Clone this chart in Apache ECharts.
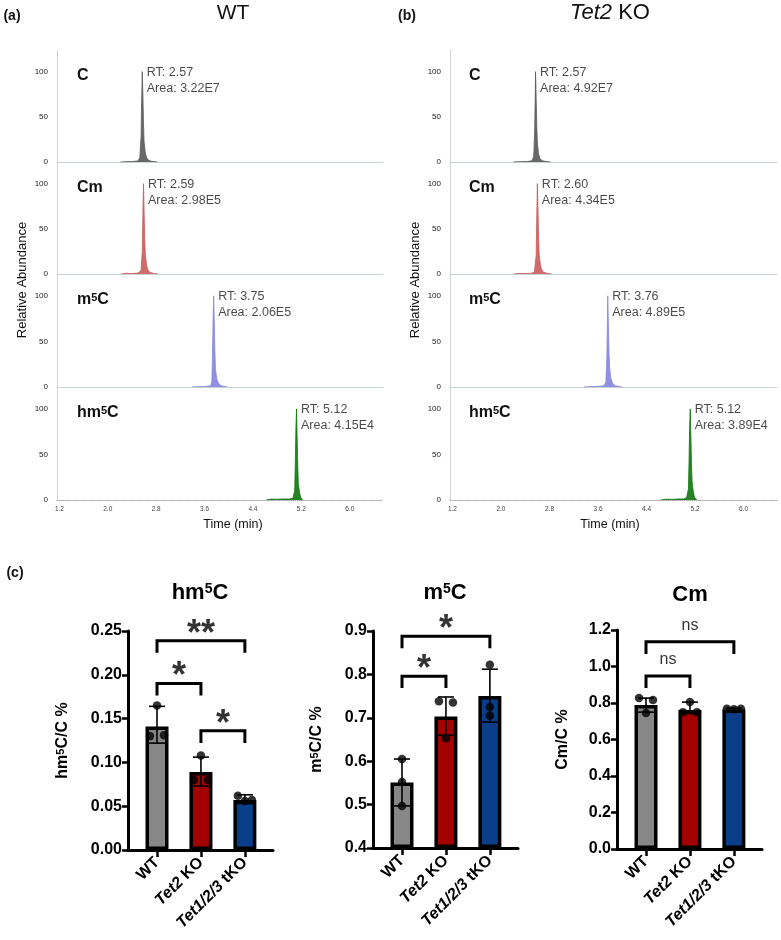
<!DOCTYPE html>
<html>
<head>
<meta charset="utf-8">
<title>LC-MS/MS nucleosides</title>
<script src="https://cdn.jsdelivr.net/npm/echarts@6.0.0/dist/echarts.min.js"></script>
<style>
  html, body { margin: 0; padding: 0; background: #fff; }
  #chart { width: 781px; height: 940px; }
</style>
</head>
<body>
<div id="chart"></div>
<script>
const FONT = '"Liberation Sans", Arial, Helvetica, sans-serif'

// ---- (a) WT / (b) Tet2 KO chromatograms ----
const compounds = ['C', 'Cm', 'm5C', 'hm5C']
const timeTicks = [1.2, 2.0, 2.8, 3.6, 4.4, 5.2, 6.0]
const abundanceTicks = [0, 50, 100]

const wtRT = [2.57, 2.59, 3.75, 5.12]
const wtArea = ['3.22E7', '2.98E5', '2.06E5', '4.15E4']
const koRT = [2.57, 2.60, 3.76, 5.12]
const koArea = ['4.92E7', '4.34E5', '4.89E5', '3.89E4']

// [time (min), relative abundance]
const wtC = [[2.21, 0], [2.30, 0.4], [2.42, 0.6], [2.50, 1.2], [2.53, 5], [2.55, 28], [2.56, 68], [2.57, 100], [2.58, 74], [2.59, 42], [2.60, 22], [2.62, 10], [2.64, 5], [2.67, 2], [2.72, 0.8], [2.82, 0]]
const wtCm = [[2.22, 0], [2.25, 1.5], [2.30, 0.8], [2.40, 0.5], [2.50, 1], [2.55, 4], [2.57, 25], [2.58, 66], [2.59, 100], [2.60, 70], [2.61, 40], [2.62, 22], [2.64, 10], [2.66, 5], [2.69, 2], [2.75, 0.8], [2.83, 0]]
const wtM5C = [[3.39, 0], [3.50, 0.4], [3.62, 0.6], [3.70, 1.5], [3.72, 6], [3.73, 30], [3.74, 70], [3.75, 100], [3.76, 72], [3.77, 40], [3.78, 20], [3.80, 9], [3.83, 4], [3.87, 1.5], [3.93, 0.6], [3.98, 0]]
const wtHm5C = [[4.62, 0], [4.70, 1], [4.80, 0.8], [4.90, 1.2], [5.00, 1], [5.06, 2], [5.09, 10], [5.10, 40], [5.11, 78], [5.12, 100], [5.13, 70], [5.14, 38], [5.15, 18], [5.17, 8], [5.19, 3], [5.22, 0]]

const koC = [[2.20, 0], [2.32, 0.4], [2.44, 0.6], [2.51, 1.3], [2.54, 6], [2.555, 32], [2.565, 72], [2.57, 100], [2.58, 70], [2.59, 40], [2.60, 21], [2.62, 9], [2.64, 4], [2.68, 1.5], [2.74, 0.6], [2.82, 0]]
const koCm = [[2.21, 0], [2.30, 0.6], [2.40, 0.5], [2.50, 0.8], [2.55, 2], [2.58, 20], [2.59, 62], [2.60, 100], [2.61, 72], [2.62, 42], [2.63, 22], [2.65, 10], [2.67, 5], [2.70, 2], [2.76, 0.7], [2.84, 0]]
const koM5C = [[3.37, 0], [3.48, 0.5], [3.60, 0.7], [3.70, 1.4], [3.73, 6], [3.745, 30], [3.755, 72], [3.76, 100], [3.77, 70], [3.78, 40], [3.79, 22], [3.81, 10], [3.84, 4], [3.88, 1.5], [3.94, 0.6], [4.00, 0]]
const koHm5C = [[4.63, 0], [4.72, 0.9], [4.82, 0.7], [4.92, 1.1], [5.01, 1.2], [5.06, 2.5], [5.09, 12], [5.10, 42], [5.11, 80], [5.12, 100], [5.13, 72], [5.14, 40], [5.15, 20], [5.17, 9], [5.19, 3], [5.23, 0]]

// ---- (c) quantification ----
const groups = ['WT', 'Tet2 KO', 'Tet1/2/3 tKO']

const hmMean = [0.141, 0.089, 0.057]
const hmLow = [0.122, 0.073, 0.053]
const hmHigh = [0.164, 0.106, 0.063]
const hmDots = [[0.165, 0.130, 0.131], [0.108, 0.080, 0.080], [0.062, 0.056, 0.057]]
const hmSig = [
  { from: 0, to: 2, y: 0.239, text: '**' },
  { from: 0, to: 1, y: 0.190, text: '*' },
  { from: 1, to: 2, y: 0.136, text: '*' },
]

const m5Mean = [0.551, 0.703, 0.750]
const m5Low = [0.497, 0.660, 0.690]
const m5High = [0.605, 0.748, 0.812]
const m5Dots = [[0.605, 0.552, 0.497], [0.738, 0.735, 0.653], [0.822, 0.725, 0.705]]
const m5Sig = [
  { from: 0, to: 2, y: 0.888, text: '*' },
  { from: 0, to: 1, y: 0.796, text: '*' },
]

const cmMean = [0.789, 0.762, 0.765]
const cmLow = [0.750, 0.742, 0.758]
const cmHigh = [0.827, 0.805, 0.772]
const cmDots = [[0.827, 0.816, 0.745], [0.805, 0.750, 0.750], [0.768, 0.766, 0.769]]
const cmSig = [
  { from: 0, to: 2, y: 1.135, text: 'ns' },
  { from: 0, to: 1, y: 0.948, text: 'ns' },
]

const peakColors = ['#585858', '#c95c5c', '#8585de', '#0e760e']
const barColors = ['#878787', '#a30000', '#0b3e88']

function supText(s, base) {
  // "hm5C" -> "{b|hm}{s|5}{b|C}"
  return s.split('5').map(part => part ? '{' + base + '|' + part + '}' : '').join('{s|5}')
}

function groupLabel(g) {
  const m = g.match(/^(Tet[\d/]+)(.*)$/)
  return m ? '{i|' + m[1] + '}{b|' + m[2] + '}' : '{b|' + g + '}'
}

const grid = []
const xAxis = []
const yAxis = []
const series = []
const graphic = []

function addText(x, y, text, font, extra) {
  graphic.push(Object.assign({
    type: 'text', x, y, silent: true,
    style: { text, font, fill: '#111', textAlign: 'center', textVerticalAlign: 'middle' },
  }, extra || {}))
}

// ---------- top chromatogram panels ----------
const rowTop = [50, 162, 274, 387]
const rowHeight = [112, 112, 113, 113]
const panels = [
  { left: 57, width: 326, rt: wtRT, area: wtArea, traces: [wtC, wtCm, wtM5C, wtHm5C], labelX: 77, centerX: 233, yTitleX: 22 },
  { left: 450, width: 327, rt: koRT, area: koArea, traces: [koC, koCm, koM5C, koHm5C], labelX: 469, centerX: 610, yTitleX: 415 },
]

panels.forEach(p => {
  compounds.forEach((name, r) => {
    const idx = grid.length
    const last = r === compounds.length - 1
    grid.push({ left: p.left, top: rowTop[r], width: p.width, height: rowHeight[r], containLabel: false, outerBoundsMode: 'none' })
    xAxis.push({
      type: 'value', gridIndex: idx, min: 1.16, max: 6.55,
      axisLine: { show: true, onZero: false, lineStyle: { color: last ? '#a8a8a8' : '#c9d3d6', width: 1, type: last ? 'dotted' : 'solid' } },
      axisTick: { show: false },
      splitLine: { show: false },
      axisLabel: last
        ? { customValues: timeTicks, formatter: v => v.toFixed(1), fontSize: 6.5, color: '#444', margin: 6, fontFamily: FONT }
        : { show: false },
    })
    yAxis.push({
      type: 'value', gridIndex: idx, min: 0, max: 124,
      axisLine: { show: true, lineStyle: { color: '#d4d4d4', width: 1 } },
      axisTick: { show: false },
      splitLine: { show: false },
      axisLabel: { customValues: abundanceTicks, fontSize: 8, color: '#222', margin: 9, fontFamily: FONT },
    })
    series.push({
      type: 'line', xAxisIndex: idx, yAxisIndex: idx, data: p.traces[r],
      symbol: 'none', silent: true, animation: false,
      lineStyle: { color: peakColors[r], width: 0.8 },
      areaStyle: { color: peakColors[r], opacity: 0.9 },
    })
    series.push({
      type: 'scatter', xAxisIndex: idx, yAxisIndex: idx, data: [[p.rt[r], 100]],
      symbolSize: 1, itemStyle: { color: 'rgba(0,0,0,0)' }, silent: true, animation: false,
      label: {
        show: true, position: 'right', distance: 4, align: 'left', verticalAlign: 'top', offset: [0, -7],
        formatter: 'RT: ' + p.rt[r].toFixed(2) + '\nArea: ' + p.area[r],
        fontSize: 12.5, lineHeight: 16, color: '#1a1a1a', fontFamily: FONT,
      },
    })
    addText(p.labelX, rowTop[r] + 26, supText(name, 'b'), 'bold 16px ' + FONT, {
      style: {
        text: supText(name, 'b'), fill: '#111', textAlign: 'left', textVerticalAlign: 'middle',
        rich: {
          b: { fontSize: 16, fontWeight: 'bold', fontFamily: FONT, fill: '#111' },
          s: { fontSize: 11, fontWeight: 'bold', fontFamily: FONT, fill: '#111', verticalAlign: 'top' },
        },
      },
    })
  })
  addText(p.yTitleX, 280, 'Relative Abundance', '13px ' + FONT, { rotation: Math.PI / 2 })
  addText(p.centerX, 525, 'Time (min)', '12.5px ' + FONT)
})

addText(12, 16, '(a)', 'bold 14px ' + FONT)
addText(233, 13, 'WT', '21px ' + FONT)
addText(407, 16, '(b)', 'bold 14px ' + FONT)
addText(610, 13, '', '22px ' + FONT, {
  style: {
    text: '{i|Tet2}{n| KO}', fill: '#111', textAlign: 'center', textVerticalAlign: 'middle',
    rich: {
      i: { fontSize: 22, fontStyle: 'italic', fontFamily: FONT, fill: '#111' },
      n: { fontSize: 22, fontFamily: FONT, fill: '#111' },
    },
  },
})
addText(15, 573, '(c)', 'bold 14px ' + FONT)

// ---------- bottom bar charts ----------
const barCharts = [
  { left: 128, top: 631, height: 219, min: 0, max: 0.25, step: 0.05, digits: 2, axisName: 'hm5C/C %', title: 'hm5C', titleX: 200, titleY: 593, nameGap: 57,
    mean: hmMean, low: hmLow, high: hmHigh, dots: hmDots, sig: hmSig, jitter: [[0, -7, 7], [0, -7, 7], [-7, 0, 7]] },
  { left: 373, top: 631, height: 217, min: 0.4, max: 0.9, step: 0.1, digits: 1, axisName: 'm5C/C %', title: 'm5C', titleX: 445, titleY: 593, nameGap: 48,
    mean: m5Mean, low: m5Low, high: m5High, dots: m5Dots, sig: m5Sig, jitter: [[0, 0, 0], [-7, 7, 0], [0, 0, 0]] },
  { left: 617, top: 630, height: 219, min: 0, max: 1.2, step: 0.2, digits: 1, axisName: 'Cm/C %', title: 'Cm', titleX: 690, titleY: 595, nameGap: 46,
    mean: cmMean, low: cmLow, high: cmHigh, dots: cmDots, sig: cmSig, jitter: [[-7, 7, 0], [0, -7, 7], [-7, 0, 7]] },
]

const boldRich = {
  a: { fontSize: 16, fontWeight: 'bold', fontFamily: FONT, color: '#000' },
  s: { fontSize: 11, fontWeight: 'bold', fontFamily: FONT, color: '#000', verticalAlign: 'top' },
}

barCharts.forEach(c => {
  const idx = grid.length
  grid.push({ left: c.left, top: c.top, width: 145, height: c.height, containLabel: false, outerBoundsMode: 'none' })
  xAxis.push({
    type: 'value', gridIndex: idx, min: -0.66, max: 2.64,
    axisLine: { show: true, onZero: false, lineStyle: { color: '#000', width: 3 } },
    axisTick: { show: true, customValues: [0, 1, 2], length: 7, lineStyle: { color: '#000', width: 2.5 } },
    splitLine: { show: false },
    axisLabel: {
      customValues: [0, 1, 2], rotate: 45, margin: 10,
      formatter: v => groupLabel(groups[v]),
      fontSize: 16, fontWeight: 'bold', fontFamily: FONT, color: '#000',
      rich: {
        b: { fontSize: 16, fontWeight: 'bold', fontFamily: FONT, color: '#000' },
        i: { fontSize: 16, fontWeight: 'bold', fontStyle: 'italic', fontFamily: FONT, color: '#000' },
      },
    },
  })
  yAxis.push({
    type: 'value', gridIndex: idx, min: c.min, max: c.max, interval: c.step, startValue: c.min,
    name: supText(c.axisName, 'a'), nameLocation: 'middle', nameRotate: 90, nameGap: c.nameGap, nameMoveOverlap: false,
    nameTextStyle: { fontSize: 16, fontWeight: 'bold', fontFamily: FONT, color: '#000', rich: boldRich },
    axisLine: { show: true, onZero: false, lineStyle: { color: '#000', width: 3 } },
    axisTick: { show: true, length: 6, lineStyle: { color: '#000', width: 2.5 } },
    splitLine: { show: false },
    axisLabel: { formatter: v => v.toFixed(c.digits), fontSize: 16, fontWeight: 'bold', fontFamily: FONT, color: '#000', margin: 6 },
  })

  series.push({
    type: 'bar', xAxisIndex: idx, yAxisIndex: idx, barWidth: 23, silent: true, animation: false,
    data: c.mean.map((v, i) => ({ value: [i, v], itemStyle: { color: barColors[i] } })),
    itemStyle: { borderColor: '#000', borderWidth: 3.5 },
    z: 2,
  })
  series.push({
    type: 'custom', xAxisIndex: idx, yAxisIndex: idx, silent: true, animation: false, z: 3,
    data: c.mean.map((v, i) => [i, c.low[i], c.high[i]]),
    encode: { x: 0, y: [1, 2] },
    renderItem: (params, api) => {
      const top = api.coord([api.value(0), api.value(2)])
      const bot = api.coord([api.value(0), api.value(1)])
      const w = 8
      const st = { stroke: '#000', lineWidth: 1.6 }
      return {
        type: 'group',
        children: [
          { type: 'line', shape: { x1: top[0], y1: top[1], x2: bot[0], y2: bot[1] }, style: st },
          { type: 'line', shape: { x1: top[0] - w, y1: top[1], x2: top[0] + w, y2: top[1] }, style: st },
          { type: 'line', shape: { x1: bot[0] - w, y1: bot[1], x2: bot[0] + w, y2: bot[1] }, style: st },
        ],
      }
    },
  })
  const dotData = []
  c.dots.forEach((vals, i) => vals.forEach((v, k) => {
    dotData.push({ value: [i, v], symbolOffset: [c.jitter[i][k], 0] })
  }))
  series.push({
    type: 'scatter', xAxisIndex: idx, yAxisIndex: idx, data: dotData, silent: true, animation: false,
    symbolSize: 8.5, itemStyle: { color: '#000' }, z: 4,
  })

  const drop = (c.max - c.min) * 0.055
  c.sig.forEach(s => {
    series.push({
      type: 'line', xAxisIndex: idx, yAxisIndex: idx, silent: true, animation: false, z: 5, clip: false,
      data: [[s.from, s.y - drop], [s.from, s.y], [s.to, s.y], [s.to, s.y - drop]],
      symbol: 'none', lineStyle: { color: '#000', width: 3, join: 'miter' },
    })
    const ns = s.text === 'ns'
    series.push({
      type: 'scatter', xAxisIndex: idx, yAxisIndex: idx, silent: true, animation: false, z: 6, clip: false,
      data: [[(s.from + s.to) / 2, s.y]], symbolSize: 1, itemStyle: { color: 'rgba(0,0,0,0)' },
      label: {
        show: true, position: 'inside', formatter: s.text, offset: ns ? [0, -16] : [0, -6],
        fontSize: ns ? 16 : 36, fontWeight: ns ? 'normal' : 'bold', fontFamily: FONT, color: '#000',
      },
    })
  })

  addText(c.titleX, c.titleY, '', 'bold 22px ' + FONT, {
    style: {
      text: supText(c.title, 'b'), fill: '#000', textAlign: 'center', textVerticalAlign: 'middle',
      rich: {
        b: { fontSize: 22, fontWeight: 'bold', fontFamily: FONT, fill: '#000' },
        s: { fontSize: 14, fontWeight: 'bold', fontFamily: FONT, fill: '#000', verticalAlign: 'top' },
      },
    },
  })
})

const chart = echarts.init(document.getElementById('chart'), null, { renderer: 'canvas' })
chart.setOption({
  backgroundColor: '#fff',
  animation: false,
  grid, xAxis, yAxis, series, graphic,
})
window.addEventListener('resize', () => chart.resize())
</script>
</body>
</html>
